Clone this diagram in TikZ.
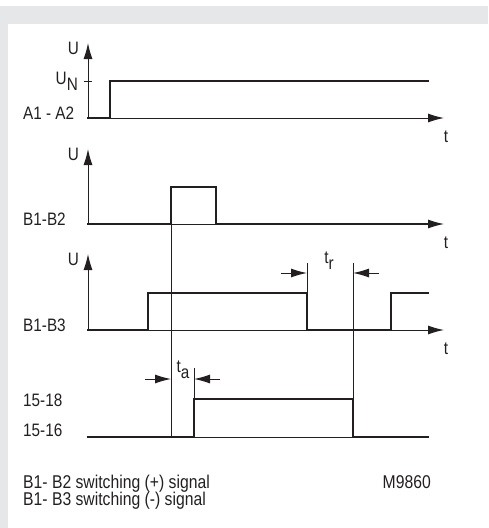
\documentclass[tikz,border=0pt]{standalone}
\usepackage{fontspec}
\setmainfont{Liberation Sans}[FakeStretch=0.85]
\usetikzlibrary{arrows.meta}
\definecolor{frame}{RGB}{230,231,232}
\definecolor{ink}{RGB}{35,31,32}
\tikzset{
    axis/.style={ink, line width=1pt, -{Latex[length=16pt,width=9pt]}},
    dim/.style={ink, line width=1pt, -{Latex[length=16pt,width=9pt]}},
    guide/.style={ink, line width=1pt},
    signal/.style={ink, line width=2.6pt, line cap=rect},
    lbl/.style={text=ink, inner sep=0pt, anchor=base west, font=\fontsize{18}{20}\selectfont},
    note/.style={text=ink, inner sep=0pt, anchor=base west, font=\fontsize{18.5}{19}\selectfont},
}
\newcommand{\sub}[1]{\raisebox{-6pt}{#1}}

\begin{document}
\begin{tikzpicture}[x=1pt, y=-1pt]
  \useasboundingbox (0,0) rectangle (488,528);
  % grey frame
  \fill[frame] (0,6) rectangle (488,24);
  \fill[frame] (0,6) rectangle (8,528);

  % time axes with U arrows
  \foreach \name/\ybase/\ytop in {aa/118/43, bb/224/149, bc/330/254} {
    \coordinate (\name-o) at (88,\ybase);
    \draw[axis] (\name-o) -- (88,\ytop);
    \draw[axis] (\name-o) -- (444,\ybase);
    \node[lbl, anchor=base east] (\name-u) at (79,\ytop+11) {U};
    \node[lbl, anchor=base] (\name-t) at (446,\ybase+24) {t};
  }
  \coordinate (cc-o) at (88,437);
  \draw[guide] (cc-o) -- (428,437);

  % signal names
  \node[lbl] (aa-name) at (23,119) {A1 - A2};
  \node[lbl] (bb-name) at (23,225) {B1-B2};
  \node[lbl] (bc-name) at (23,331) {B1-B3};
  \node[lbl] (cc-on)   at (23,406) {15-18};
  \node[lbl] (cc-off)  at (23,436) {15-16};

  % U_N mark
  \draw[guide] (84,81) -- (92,81);
  \node[lbl, anchor=base east] (aa-un) at (78,84) {U\sub{N}};

  % signals
  \draw[signal] (aa-o) -- (110,118) -- (110,81) -- (428,81);
  \draw[signal] (bb-o) -- (171,224) -- (171,187) -- (216,187) -- (216,224) -- (428,224);
  \draw[signal] (bc-o) -- (148,330) -- (148,293) -- (307,293) -- (307,330)
                -- (391,330) -- (391,293) -- (428,293);
  \draw[signal] (cc-o) -- (194,437) -- (194,399) -- (353,399) -- (353,437) -- (428,437);

  % guide lines
  \draw[guide] (171,224) -- (171,437);
  \draw[guide] (194,368) -- (194,399);
  \draw[guide] (307,263) -- (307,293);
  \draw[guide] (353,263) -- (353,399);

  % t_a and t_r
  \draw[dim] (145,379) -- (171,379);
  \draw[dim] (220,379) -- (194,379);
  \node[lbl, anchor=base] (ta) at (183,372) {t\sub{a}};
  \draw[dim] (281,273) -- (307,273);
  \draw[dim] (379,273) -- (353,273);
  \node[lbl, anchor=base] (tr) at (329,263) {t\sub{r}};

  % notes
  \node[note] (note-b2) at (23,488) {B1- B2 switching (+) signal};
  \node[note] (note-b3) at (23,505) {B1- B3 switching (-) signal};
  \node[note, anchor=base east] (code) at (431,488) {M9860};
\end{tikzpicture}
\end{document}
